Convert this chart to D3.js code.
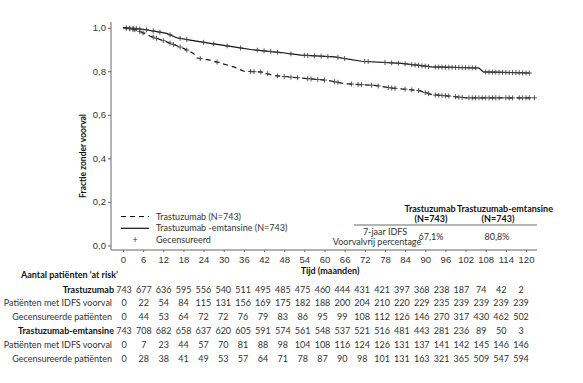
<!DOCTYPE html>
<html>
<head>
<meta charset="utf-8">
<script src="https://cdn.jsdelivr.net/npm/d3@7"></script>
<style>
  body { margin: 0; background: #fff; }
  svg { font-family: Lato, "Open Sans", sans-serif; }
</style>
</head>
<body>
<div id="chart"></div>
<script>
// KM curve: Trastuzumab vs Trastuzumab-emtansine (IDFS)
const timeTicks = [0, 6, 12, 18, 24, 30, 36, 42, 48, 54, 60, 66, 72, 78, 84, 90, 96, 102, 108, 114, 120];
const survTicks = [0, 0.2, 0.4, 0.6, 0.8, 1.0];

// Trastuzumab (dashed)
const trasTime = [0, 4, 8, 13, 18, 21, 22, 26, 33, 36, 41, 45, 53, 61, 66, 75, 80, 88, 92, 98, 102, 122.5];
const trasSurv = [1.0, 0.99, 0.962, 0.935, 0.905, 0.882, 0.861, 0.851, 0.82, 0.80, 0.797, 0.78, 0.769, 0.758, 0.743, 0.735, 0.723, 0.712, 0.692, 0.685, 0.678, 0.678];
const trasCens = [1, 2, 3, 3.5, 5, 6, 9, 10, 12, 14, 15, 17, 19, 23, 28, 38, 39, 41, 43, 46, 48, 50, 52, 55, 56, 58, 60, 63, 64, 68, 70, 71, 74, 76, 79, 80, 81, 84, 86, 88, 90, 91, 93, 94, 95, 96, 97, 99, 100, 101, 103, 104, 105, 106, 107, 108, 109, 110, 111, 112, 114, 115, 116, 118, 119, 120, 121, 122.5];

// Trastuzumab-emtansine (solid)
const tdm1Time = [0, 6, 13, 16, 20, 26, 33, 38, 47, 53, 63, 71, 83, 92, 106, 107.3, 121];
const tdm1Surv = [1.0, 0.993, 0.974, 0.954, 0.943, 0.928, 0.912, 0.90, 0.886, 0.874, 0.866, 0.846, 0.836, 0.82, 0.815, 0.797, 0.792];
const tdm1Cens = [1, 2, 3, 4, 5, 7, 9, 11, 14, 17, 19, 24, 27, 31, 35, 40, 42, 44, 46, 50, 54, 55, 57, 59, 61, 64, 66, 72, 73, 78, 80, 82, 84, 86, 87, 88, 89, 90, 91, 93, 94, 95, 96, 97, 98, 99, 100, 101, 102, 103, 104, 105, 108, 109, 110, 111, 112, 113, 114, 115, 116, 117, 118, 119, 120, 121];

// Patients at risk table
const trasAtRisk = [743, 677, 636, 595, 556, 540, 511, 495, 485, 475, 460, 444, 431, 421, 397, 368, 238, 187, 74, 42, 2];
const trasEvents = [0, 22, 54, 84, 115, 131, 156, 169, 175, 182, 188, 200, 204, 210, 220, 229, 235, 239, 239, 239, 239];
const trasCensored = [0, 44, 53, 64, 72, 72, 76, 79, 83, 86, 95, 99, 108, 112, 126, 146, 270, 317, 430, 462, 502];
const tdm1AtRisk = [743, 708, 682, 658, 637, 620, 605, 591, 574, 561, 548, 537, 521, 516, 481, 443, 281, 236, 89, 50, 3];
const tdm1Events = [0, 7, 23, 44, 57, 70, 81, 88, 98, 104, 108, 116, 124, 126, 131, 137, 141, 142, 145, 146, 146];
const tdm1Censored = [0, 28, 38, 41, 49, 53, 57, 64, 71, 78, 87, 90, 98, 101, 131, 163, 321, 365, 509, 547, 594];

const W = 583, H = 383;
const textColor = '#333';
const axisColor = '#666';

const svg = d3.select('#chart').append('svg')
  .attr('width', W).attr('height', H);

const x = d3.scaleLinear().domain([0, 120]).range([123, 526]);
const y = d3.scaleLinear().domain([0, 1]).range([245.5, 27.7]);
const xr = d3.scaleLinear().domain([0, 120]).range([124, 521]);

const comma = d => d3.format('.1f')(d).replace('.', ',');

// Y axis
const gy = svg.append('g')
  .attr('transform', 'translate(111,0)')
  .call(d3.axisLeft(y).tickValues(survTicks).tickSize(3).tickPadding(2).tickFormat(comma));
gy.select('.domain').remove();
gy.selectAll('line').attr('stroke', axisColor);
gy.selectAll('text').attr('fill', textColor).style('font-size', '9.5px');
svg.append('line')
  .attr('x1', 111).attr('x2', 111).attr('y1', 22).attr('y2', 250)
  .attr('stroke', axisColor).attr('stroke-width', 1);

// X axis
const gx = svg.append('g')
  .attr('transform', 'translate(0,250)')
  .call(d3.axisBottom(x).tickValues(timeTicks).tickSize(2).tickPadding(4));
gx.select('.domain').remove();
gx.selectAll('line').attr('stroke', axisColor);
gx.selectAll('text').attr('fill', textColor).style('font-size', '9.5px');
svg.append('line')
  .attr('x1', 111).attr('x2', 537).attr('y1', 250).attr('y2', 250)
  .attr('stroke', axisColor).attr('stroke-width', 1);

svg.append('text')
  .attr('x', 330).attr('y', 274)
  .attr('text-anchor', 'middle')
  .attr('font-weight', 'bold').attr('font-size', 9)
  .attr('fill', '#111')
  .text('Tijd (maanden)');

svg.append('text')
  .attr('transform', 'translate(86,156) rotate(-90)')
  .attr('text-anchor', 'middle')
  .attr('font-weight', 'bold').attr('font-size', 8.5)
  .attr('fill', '#111')
  .text('Fractie zonder voorval');

// Curves
const line = d3.line().x(d => x(d[0])).y(d => y(d[1])).curve(d3.curveLinear);

function survAt(times, surv, t) {
  const i = d3.bisectRight(times, t);
  if (i <= 0) return surv[0];
  if (i >= times.length) return surv[surv.length - 1];
  const t0 = times[i - 1], t1 = times[i];
  return surv[i - 1] + (surv[i] - surv[i - 1]) * (t - t0) / (t1 - t0);
}

function drawCurve(times, surv, cens, dash) {
  svg.append('path')
    .datum(times.map((t, i) => [t, surv[i]]))
    .attr('d', line)
    .attr('fill', 'none')
    .attr('stroke', '#111')
    .attr('stroke-width', 1.2)
    .attr('stroke-dasharray', dash);

  const g = svg.append('g');
  cens.forEach(t => {
    const cx = x(t), cy = y(survAt(times, surv, t));
    g.append('path')
      .attr('d', `M${cx - 2.5},${cy}H${cx + 2.5}M${cx},${cy - 2.5}V${cy + 2.5}`)
      .attr('stroke', '#444').attr('stroke-width', 0.9);
  });
}

drawCurve(trasTime, trasSurv, trasCens, '5,4');
drawCurve(tdm1Time, tdm1Surv, tdm1Cens, null);

// Legend
const legend = svg.append('g').attr('font-size', 9).attr('fill', textColor);
legend.append('line').attr('x1', 121).attr('x2', 149).attr('y1', 216.5).attr('y2', 216.5)
  .attr('stroke', '#111').attr('stroke-width', 1.2).attr('stroke-dasharray', '5,4');
legend.append('line').attr('x1', 121).attr('x2', 149).attr('y1', 228.3).attr('y2', 228.3)
  .attr('stroke', '#111').attr('stroke-width', 1.2);
legend.append('text').attr('x', 135).attr('y', 243).attr('text-anchor', 'middle').text('+');
[['Trastuzumab (N=743)', 220], ['Trastuzumab -emtansine (N=743)', 231], ['Gecensureerd', 243]]
  .forEach(([t, yy]) => legend.append('text').attr('x', 156).attr('y', yy).text(t));

// Inline summary table
const tbl = svg.append('g').attr('font-size', 9).attr('fill', textColor);
tbl.append('text').attr('x', 430).attr('y', 212).attr('text-anchor', 'middle')
  .attr('font-weight', 'bold').attr('fill', '#111').text('Trastuzumab');
tbl.append('text').attr('x', 431).attr('y', 222).attr('text-anchor', 'middle')
  .attr('font-weight', 'bold').attr('fill', '#111').text('(N=743)');
tbl.append('text').attr('x', 505).attr('y', 212).attr('text-anchor', 'middle')
  .attr('font-weight', 'bold').attr('fill', '#111').text('Trastuzumab-emtansine');
tbl.append('text').attr('x', 498).attr('y', 222).attr('text-anchor', 'middle')
  .attr('font-weight', 'bold').attr('fill', '#111').text('(N=743)');
tbl.append('line').attr('x1', 354).attr('x2', 537).attr('y1', 225).attr('y2', 225)
  .attr('stroke', '#444').attr('stroke-width', 0.8);
tbl.append('text').attr('x', 385).attr('y', 235).attr('text-anchor', 'middle').text('7-jaar IDFS');
tbl.append('text').attr('x', 377).attr('y', 245).attr('text-anchor', 'middle').text('Voorvalvrij percentage');
tbl.append('text').attr('x', 431).attr('y', 240).attr('text-anchor', 'middle').text('67,1%');
tbl.append('text').attr('x', 497).attr('y', 240).attr('text-anchor', 'middle').text('80,8%');

// At-risk table
const risk = svg.append('g').attr('font-size', 9).attr('fill', textColor);
risk.append('text').attr('x', 21).attr('y', 278)
  .attr('font-weight', 'bold').attr('fill', '#111').text('Aantal patiënten ‘at risk’');

const rows = [
  { label: 'Trastuzumab', bold: true, vals: trasAtRisk, y: 292.5 },
  { label: 'Patiënten met IDFS voorval', bold: false, vals: trasEvents, y: 306 },
  { label: 'Gecensureerde patiënten', bold: false, vals: trasCensored, y: 320 },
  { label: 'Trastuzumab-emtansine', bold: true, vals: tdm1AtRisk, y: 334 },
  { label: 'Patiënten met IDFS voorval', bold: false, vals: tdm1Events, y: 348 },
  { label: 'Gecensureerde patiënten', bold: false, vals: tdm1Censored, y: 362 }
];
rows.forEach(r => {
  risk.append('text')
    .attr('x', r.bold ? 114 : 112).attr('y', r.y)
    .attr('text-anchor', 'end')
    .attr('font-weight', r.bold ? 'bold' : 'normal')
    .attr('fill', r.bold ? '#111' : textColor)
    .text(r.label);
  r.vals.forEach((v, i) => {
    risk.append('text')
      .attr('x', xr(timeTicks[i])).attr('y', r.y)
      .attr('text-anchor', 'middle')
      .text(v);
  });
});
</script>
</body>
</html>
